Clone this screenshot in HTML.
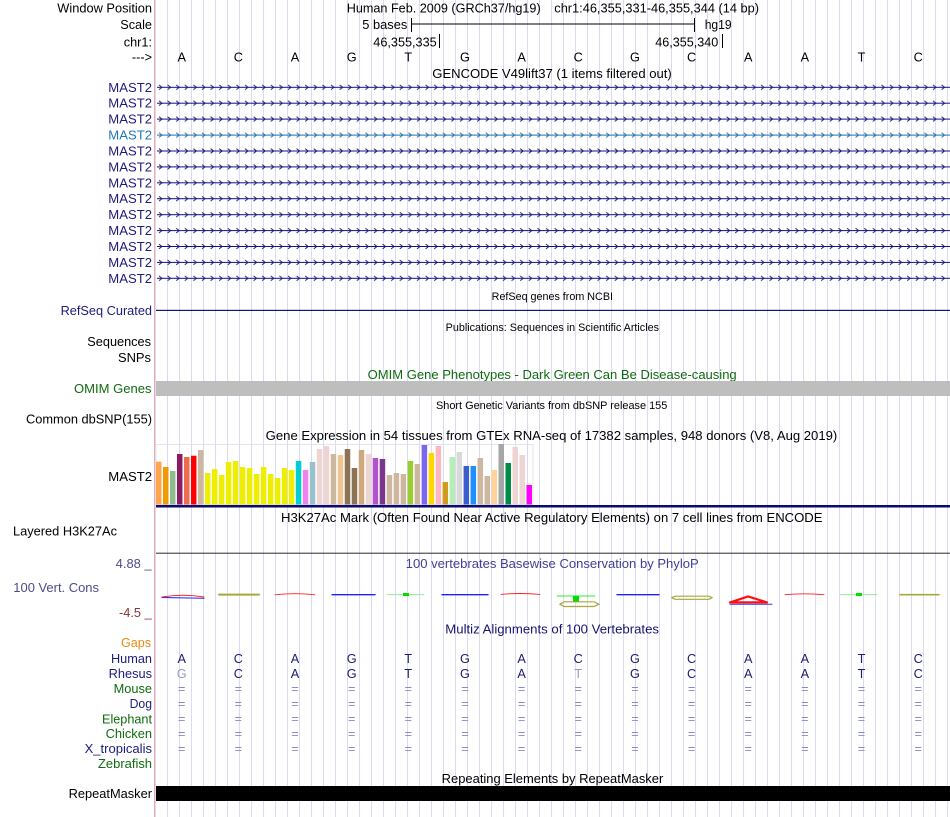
<!DOCTYPE html>
<html><head><meta charset="utf-8">
<style>
html,body{margin:0;padding:0;background:#fff;}
svg{display:block;}
text{font-family:"Liberation Sans",Arial,sans-serif;}
</style></head>
<body>
<svg width="950" height="817" viewBox="0 0 950 817" xmlns="http://www.w3.org/2000/svg">
<defs>
<pattern id="grid" x="167" y="0" width="12" height="20" patternUnits="userSpaceOnUse">
<rect x="0" y="0" width="1" height="20" fill="#dadaf6"/>
</pattern>
<pattern id="chev" x="157" y="-3" width="8.6" height="6" patternUnits="userSpaceOnUse">
<path d="M2,0.6 L5,3 L2,5.4" fill="none" stroke="#14147a" stroke-width="0.9"/>
</pattern>
<pattern id="chev2" x="157" y="-3" width="8.6" height="6" patternUnits="userSpaceOnUse">
<path d="M2,0.6 L5,3 L2,5.4" fill="none" stroke="#1e6fa8" stroke-width="0.9"/>
</pattern>
</defs>
<rect width="950" height="817" fill="#fff"/>
<rect x="155" y="0" width="795" height="817" fill="url(#grid)"/>
<rect x="154" y="0" width="1" height="817" fill="#f5a8a8"/>

<!-- top ruler -->
<g font-size="12.7" fill="#000">
<text x="152" y="12.5" text-anchor="end" textLength="94.7" lengthAdjust="spacingAndGlyphs">Window Position</text>
<text x="346.7" y="12.5" textLength="194" lengthAdjust="spacingAndGlyphs">Human Feb. 2009 (GRCh37/hg19)</text>
<text x="554.3" y="12.5" textLength="204.7" lengthAdjust="spacingAndGlyphs">chr1:46,355,331-46,355,344 (14 bp)</text>
<text x="152" y="29" text-anchor="end">Scale</text>
<text x="362.3" y="29" textLength="45" lengthAdjust="spacingAndGlyphs">5 bases</text>
<text x="704.7" y="29" textLength="27" lengthAdjust="spacingAndGlyphs">hg19</text>
<text x="152" y="46.5" text-anchor="end">chr1:</text>
<text x="373.3" y="46.5" textLength="63.4" lengthAdjust="spacingAndGlyphs">46,355,335</text>
<text x="655.3" y="46.5" textLength="63" lengthAdjust="spacingAndGlyphs">46,355,340</text>
<text x="152" y="61.5" text-anchor="end">---&gt;</text>
<g text-anchor="middle">
<text x="181.7" y="61.5">A</text><text x="238.35" y="61.5">C</text><text x="295" y="61.5">A</text><text x="351.65" y="61.5">G</text><text x="408.3" y="61.5">T</text><text x="464.95" y="61.5">G</text><text x="521.6" y="61.5">A</text><text x="578.25" y="61.5">C</text><text x="634.9" y="61.5">G</text><text x="691.55" y="61.5">C</text><text x="748.2" y="61.5">A</text><text x="804.85" y="61.5">A</text><text x="861.5" y="61.5">T</text><text x="918.15" y="61.5">C</text>
</g>
<text x="432.3" y="77.8" textLength="239.4" lengthAdjust="spacingAndGlyphs">GENCODE V49lift37 (1 items filtered out)</text>
</g>
<rect x="411" y="23.5" width="284" height="1" fill="#000"/>
<rect x="411" y="18" width="1" height="14" fill="#000"/>
<rect x="694" y="18" width="1" height="14" fill="#000"/>
<rect x="439" y="34" width="1" height="14" fill="#000"/>
<rect x="722" y="34" width="1" height="14" fill="#000"/>

<!-- MAST2 gene rows -->
<g font-size="12.7" fill="#1c1c7c" text-anchor="end">
<text x="152" y="91.8" textLength="43.7" lengthAdjust="spacingAndGlyphs">MAST2</text>
<text x="152" y="107.7" textLength="43.7" lengthAdjust="spacingAndGlyphs">MAST2</text>
<text x="152" y="123.6" textLength="43.7" lengthAdjust="spacingAndGlyphs">MAST2</text>
<text x="152" y="139.6" textLength="43.7" lengthAdjust="spacingAndGlyphs" fill="#1e78b8">MAST2</text>
<text x="152" y="155.5" textLength="43.7" lengthAdjust="spacingAndGlyphs">MAST2</text>
<text x="152" y="171.4" textLength="43.7" lengthAdjust="spacingAndGlyphs">MAST2</text>
<text x="152" y="187.3" textLength="43.7" lengthAdjust="spacingAndGlyphs">MAST2</text>
<text x="152" y="203.2" textLength="43.7" lengthAdjust="spacingAndGlyphs">MAST2</text>
<text x="152" y="219.2" textLength="43.7" lengthAdjust="spacingAndGlyphs">MAST2</text>
<text x="152" y="235.1" textLength="43.7" lengthAdjust="spacingAndGlyphs">MAST2</text>
<text x="152" y="251" textLength="43.7" lengthAdjust="spacingAndGlyphs">MAST2</text>
<text x="152" y="266.9" textLength="43.7" lengthAdjust="spacingAndGlyphs">MAST2</text>
<text x="152" y="282.8" textLength="43.7" lengthAdjust="spacingAndGlyphs">MAST2</text>
</g>
<g transform="translate(0,87.3)"><rect x="157" y="-0.5" width="793" height="1" fill="#14147a"/><rect x="157" y="-3" width="793" height="6" fill="url(#chev)"/></g>
<g transform="translate(0,103.2)"><rect x="157" y="-0.5" width="793" height="1" fill="#14147a"/><rect x="157" y="-3" width="793" height="6" fill="url(#chev)"/></g>
<g transform="translate(0,119.1)"><rect x="157" y="-0.5" width="793" height="1" fill="#14147a"/><rect x="157" y="-3" width="793" height="6" fill="url(#chev)"/></g>
<g transform="translate(0,135.1)"><rect x="157" y="-0.5" width="793" height="1" fill="#1e6fa8"/><rect x="157" y="-3" width="793" height="6" fill="url(#chev2)"/></g>
<g transform="translate(0,151.0)"><rect x="157" y="-0.5" width="793" height="1" fill="#14147a"/><rect x="157" y="-3" width="793" height="6" fill="url(#chev)"/></g>
<g transform="translate(0,166.9)"><rect x="157" y="-0.5" width="793" height="1" fill="#14147a"/><rect x="157" y="-3" width="793" height="6" fill="url(#chev)"/></g>
<g transform="translate(0,182.8)"><rect x="157" y="-0.5" width="793" height="1" fill="#14147a"/><rect x="157" y="-3" width="793" height="6" fill="url(#chev)"/></g>
<g transform="translate(0,198.7)"><rect x="157" y="-0.5" width="793" height="1" fill="#14147a"/><rect x="157" y="-3" width="793" height="6" fill="url(#chev)"/></g>
<g transform="translate(0,214.7)"><rect x="157" y="-0.5" width="793" height="1" fill="#14147a"/><rect x="157" y="-3" width="793" height="6" fill="url(#chev)"/></g>
<g transform="translate(0,230.6)"><rect x="157" y="-0.5" width="793" height="1" fill="#14147a"/><rect x="157" y="-3" width="793" height="6" fill="url(#chev)"/></g>
<g transform="translate(0,246.5)"><rect x="157" y="-0.5" width="793" height="1" fill="#14147a"/><rect x="157" y="-3" width="793" height="6" fill="url(#chev)"/></g>
<g transform="translate(0,262.4)"><rect x="157" y="-0.5" width="793" height="1" fill="#14147a"/><rect x="157" y="-3" width="793" height="6" fill="url(#chev)"/></g>
<g transform="translate(0,278.3)"><rect x="157" y="-0.5" width="793" height="1" fill="#14147a"/><rect x="157" y="-3" width="793" height="6" fill="url(#chev)"/></g>

<!-- RefSeq / pubs / OMIM / dbSNP -->
<text x="491.7" y="299.8" font-size="10.7" textLength="121.3" lengthAdjust="spacingAndGlyphs">RefSeq genes from NCBI</text>
<text x="152" y="314.8" font-size="12.7" fill="#1c1c7c" text-anchor="end" textLength="91.4" lengthAdjust="spacingAndGlyphs">RefSeq Curated</text>
<rect x="156" y="309.8" width="794" height="1.2" fill="#14147a"/>
<text x="445.7" y="330.8" font-size="10.7" textLength="213.3" lengthAdjust="spacingAndGlyphs">Publications: Sequences in Scientific Articles</text>
<text x="151" y="346.2" font-size="12.7" text-anchor="end" textLength="63.7" lengthAdjust="spacingAndGlyphs">Sequences</text>
<text x="151" y="361.8" font-size="12.7" text-anchor="end" textLength="33" lengthAdjust="spacingAndGlyphs">SNPs</text>
<text x="367.7" y="378.8" font-size="12.7" fill="#0f6b0f" textLength="369" lengthAdjust="spacingAndGlyphs">OMIM Gene Phenotypes - Dark Green Can Be Disease-causing</text>
<text x="151.5" y="392.8" font-size="12.7" fill="#0f6b0f" text-anchor="end" textLength="77.5" lengthAdjust="spacingAndGlyphs">OMIM Genes</text>
<rect x="156" y="381" width="794" height="15" fill="#bebebe"/>
<text x="436" y="408.8" font-size="10.7" textLength="231.3" lengthAdjust="spacingAndGlyphs">Short Genetic Variants from dbSNP release 155</text>
<text x="152" y="423.5" font-size="12.7" text-anchor="end" textLength="126" lengthAdjust="spacingAndGlyphs">Common dbSNP(155)</text>

<!-- GTEx -->
<text x="265.7" y="440.2" font-size="12.7" textLength="571.6" lengthAdjust="spacingAndGlyphs">Gene Expression in 54 tissues from GTEx RNA-seq of 17382 samples, 948 donors (V8, Aug 2019)</text>
<text x="152" y="481.2" font-size="12.7" text-anchor="end" textLength="43.7" lengthAdjust="spacingAndGlyphs">MAST2</text>
<rect x="156" y="444.5" width="377" height="60" fill="none" stroke="#e4e4ec" stroke-width="1"/>
<g>
<rect x="156.0" y="461.7" width="5.5" height="42.8" fill="#FFA54F"/>
<rect x="162.99" y="467" width="5.5" height="37.5" fill="#EE9A00"/>
<rect x="169.98" y="471" width="5.5" height="33.5" fill="#8FBC8F"/>
<rect x="176.97" y="454" width="5.5" height="50.5" fill="#8B1C62"/>
<rect x="183.96" y="457" width="5.5" height="47.5" fill="#EE6A50"/>
<rect x="190.95" y="455.7" width="5.5" height="48.8" fill="#FF0000"/>
<rect x="197.94" y="450" width="5.5" height="54.5" fill="#CDB79E"/>
<rect x="204.93" y="473" width="5.5" height="31.5" fill="#EEEE00"/>
<rect x="211.92" y="469" width="5.5" height="35.5" fill="#EEEE00"/>
<rect x="218.91" y="475" width="5.5" height="29.5" fill="#EEEE00"/>
<rect x="225.9" y="462" width="5.5" height="42.5" fill="#EEEE00"/>
<rect x="232.89" y="461" width="5.5" height="43.5" fill="#EEEE00"/>
<rect x="239.88" y="467" width="5.5" height="37.5" fill="#EEEE00"/>
<rect x="246.87" y="468" width="5.5" height="36.5" fill="#EEEE00"/>
<rect x="253.86" y="474" width="5.5" height="30.5" fill="#EEEE00"/>
<rect x="260.85" y="467" width="5.5" height="37.5" fill="#EEEE00"/>
<rect x="267.84" y="474" width="5.5" height="30.5" fill="#EEEE00"/>
<rect x="274.83" y="478" width="5.5" height="26.5" fill="#EEEE00"/>
<rect x="281.82" y="468" width="5.5" height="36.5" fill="#EEEE00"/>
<rect x="288.81" y="470" width="5.5" height="34.5" fill="#EEEE00"/>
<rect x="295.8" y="461" width="5.5" height="43.5" fill="#00CED1"/>
<rect x="302.79" y="470" width="5.5" height="34.5" fill="#EE82EE"/>
<rect x="309.78" y="462" width="5.5" height="42.5" fill="#9AC0CD"/>
<rect x="316.77" y="449" width="5.5" height="55.5" fill="#EED5D2"/>
<rect x="323.76" y="446" width="5.5" height="58.5" fill="#EED5D2"/>
<rect x="330.75" y="454" width="5.5" height="50.5" fill="#CDB79E"/>
<rect x="337.74" y="455" width="5.5" height="49.5" fill="#EEC591"/>
<rect x="344.73" y="449" width="5.5" height="55.5" fill="#8B7355"/>
<rect x="351.72" y="468" width="5.5" height="36.5" fill="#8B7355"/>
<rect x="358.71" y="450" width="5.5" height="54.5" fill="#CDAA7D"/>
<rect x="365.7" y="454" width="5.5" height="50.5" fill="#EED5D2"/>
<rect x="372.69" y="458" width="5.5" height="46.5" fill="#B452CD"/>
<rect x="379.68" y="459" width="5.5" height="45.5" fill="#7A378B"/>
<rect x="386.67" y="475" width="5.5" height="29.5" fill="#CDB79E"/>
<rect x="393.66" y="473" width="5.5" height="31.5" fill="#CDB79E"/>
<rect x="400.65" y="474" width="5.5" height="30.5" fill="#CDB79E"/>
<rect x="407.64" y="461" width="5.5" height="43.5" fill="#9ACD32"/>
<rect x="414.63" y="464" width="5.5" height="40.5" fill="#CDB79E"/>
<rect x="421.62" y="445" width="5.5" height="59.5" fill="#7A67EE"/>
<rect x="428.61" y="453" width="5.5" height="51.5" fill="#FFD700"/>
<rect x="435.6" y="446" width="5.5" height="58.5" fill="#FFB6C1"/>
<rect x="442.59" y="482" width="5.5" height="22.5" fill="#CD9B1D"/>
<rect x="449.58" y="457" width="5.5" height="47.5" fill="#B4EEB4"/>
<rect x="456.57" y="452" width="5.5" height="52.5" fill="#D9D9D9"/>
<rect x="463.56" y="466" width="5.5" height="38.5" fill="#3A5FCD"/>
<rect x="470.55" y="466" width="5.5" height="38.5" fill="#1E90FF"/>
<rect x="477.54" y="458" width="5.5" height="46.5" fill="#CDB79E"/>
<rect x="484.53" y="476" width="5.5" height="28.5" fill="#CDB79E"/>
<rect x="491.52" y="470" width="5.5" height="34.5" fill="#FFD39B"/>
<rect x="498.51" y="444" width="5.5" height="60.5" fill="#A6A6A6"/>
<rect x="505.5" y="463" width="5.5" height="41.5" fill="#008B45"/>
<rect x="512.49" y="447" width="5.5" height="57.5" fill="#EED5D2"/>
<rect x="519.48" y="455" width="5.5" height="49.5" fill="#EED5D2"/>
<rect x="526.47" y="485" width="5.5" height="19.5" fill="#FF00FF"/>
</g>
<rect x="156" y="505" width="794" height="2.5" fill="#0a0a70"/>

<!-- H3K27Ac -->
<text x="281" y="522.2" font-size="12.7" textLength="541.5" lengthAdjust="spacingAndGlyphs">H3K27Ac Mark (Often Found Near Active Regulatory Elements) on 7 cell lines from ENCODE</text>
<text x="13" y="535.5" font-size="12.7" textLength="104" lengthAdjust="spacingAndGlyphs">Layered H3K27Ac</text>
<rect x="156" y="552.7" width="794" height="1" fill="#2a2a2a"/>

<!-- Conservation -->
<text x="151.7" y="567.8" font-size="12.7" fill="#4c4c8c" text-anchor="end" textLength="36" lengthAdjust="spacingAndGlyphs">4.88 _</text>
<text x="405.7" y="567.8" font-size="12.7" fill="#3f3f96" textLength="293" lengthAdjust="spacingAndGlyphs">100 vertebrates Basewise Conservation by PhyloP</text>
<text x="13.3" y="591.8" font-size="12.7" fill="#4c4c8c" textLength="85.7" lengthAdjust="spacingAndGlyphs">100 Vert. Cons</text>
<text x="151.7" y="616.8" font-size="12.7" fill="#8b3535" text-anchor="end" textLength="32.7" lengthAdjust="spacingAndGlyphs">-4.5 _</text>
<g fill="none" stroke-linecap="round">
<path d="M162,597.5 L204,598.2" stroke="#2020ff" stroke-width="1"/>
<path d="M162,597 Q183,593.5 204,597" stroke="#ff2020" stroke-width="0.9"/>
<path d="M219,594.6 L259,594.6" stroke="#a8a83a" stroke-width="2"/>
<path d="M275,594.8 Q295,592.6 315,594.8" stroke="#ff2020" stroke-width="0.9"/>
<path d="M332,594.7 L375,594.7" stroke="#2020ff" stroke-width="1.3"/>
<path d="M387,594.6 L424,594.6" stroke="#90ee90" stroke-width="1"/>
<path d="M442,594.7 L488,594.7" stroke="#2020ff" stroke-width="1.3"/>
<path d="M501,594.4 Q520,592.6 540,594.4" stroke="#ff2020" stroke-width="0.9"/>
<path d="M557,596 L595,596" stroke="#30ee30" stroke-width="1"/>
<path d="M560,604.2 L564,601.8 L594,601.8 L599,604.2 L594,606.5 L564,606.5 Z" stroke="#a8a83a" stroke-width="1.2"/>
<path d="M617,594.7 L659,594.7" stroke="#2020ff" stroke-width="1.3"/>
<path d="M672,597.7 L675,596.2 L709,596.2 L712,597.7 L709,599.3 L675,599.3 Z" stroke="#a8a83a" stroke-width="1.2"/>
<path d="M730,604.2 L772,604.2" stroke="#3030ff" stroke-width="1"/>
<path d="M730,602.4 L748,596.4 L767,602.4 Z" stroke="#ff1010" stroke-width="2.2" stroke-linejoin="round"/>
<path d="M785,594.7 Q804,593 824,594.7" stroke="#ff2020" stroke-width="0.9"/>
<path d="M840,594.6 L877,594.6" stroke="#90ee90" stroke-width="1"/>
<path d="M900,594.7 L939,594.7" stroke="#a8a83a" stroke-width="1.6"/>
</g>
<rect x="403" y="593" width="6" height="3" fill="#00dd00"/>
<rect x="573" y="596" width="6" height="5.5" fill="#00dd00"/>
<rect x="856" y="593" width="6" height="3" fill="#00dd00"/>

<!-- Multiz -->
<text x="445.3" y="633.5" font-size="12.7" fill="#14146e" textLength="213.7" lengthAdjust="spacingAndGlyphs">Multiz Alignments of 100 Vertebrates</text>
<g font-size="12.7" text-anchor="end">
<text x="151" y="647.2" fill="#ee8a10" textLength="30" lengthAdjust="spacingAndGlyphs">Gaps</text>
<text x="152" y="662.8" fill="#1c1c7c" textLength="41" lengthAdjust="spacingAndGlyphs">Human</text>
<text x="152" y="677.8" fill="#1c1c7c" textLength="43.4" lengthAdjust="spacingAndGlyphs">Rhesus</text>
<text x="152" y="692.8" fill="#0f6b0f" textLength="38.4" lengthAdjust="spacingAndGlyphs">Mouse</text>
<text x="152" y="707.8" fill="#1c1c7c" textLength="22.4" lengthAdjust="spacingAndGlyphs">Dog</text>
<text x="152" y="723.3" fill="#0f6b0f" textLength="50" lengthAdjust="spacingAndGlyphs">Elephant</text>
<text x="152" y="737.8" fill="#0f6b0f" textLength="46.4" lengthAdjust="spacingAndGlyphs">Chicken</text>
<text x="152" y="752.8" fill="#1c1c7c" textLength="67.4" lengthAdjust="spacingAndGlyphs">X_tropicalis</text>
<text x="152" y="767.8" fill="#0f6b0f" textLength="54" lengthAdjust="spacingAndGlyphs">Zebrafish</text>
</g>
<g font-size="12.7" text-anchor="middle" fill="#1c1c70">
<text x="181.7" y="662.8">A</text><text x="238.35" y="662.8">C</text><text x="295" y="662.8">A</text><text x="351.65" y="662.8">G</text><text x="408.3" y="662.8">T</text><text x="464.95" y="662.8">G</text><text x="521.6" y="662.8">A</text><text x="578.25" y="662.8">C</text><text x="634.9" y="662.8">G</text><text x="691.55" y="662.8">C</text><text x="748.2" y="662.8">A</text><text x="804.85" y="662.8">A</text><text x="861.5" y="662.8">T</text><text x="918.15" y="662.8">C</text>
<text x="181.7" y="677.8" fill="#9a9ac0">G</text><text x="238.35" y="677.8">C</text><text x="295" y="677.8">A</text><text x="351.65" y="677.8">G</text><text x="408.3" y="677.8">T</text><text x="464.95" y="677.8">G</text><text x="521.6" y="677.8">A</text><text x="578.25" y="677.8" fill="#9a9ac0">T</text><text x="634.9" y="677.8">G</text><text x="691.55" y="677.8">C</text><text x="748.2" y="677.8">A</text><text x="804.85" y="677.8">A</text><text x="861.5" y="677.8">T</text><text x="918.15" y="677.8">C</text>
</g>
<g font-size="12.7" text-anchor="middle" fill="#8a8ac4">
<text x="181.7" y="692.8">=</text><text x="238.35" y="692.8">=</text><text x="295" y="692.8">=</text><text x="351.65" y="692.8">=</text><text x="408.3" y="692.8">=</text><text x="464.95" y="692.8">=</text><text x="521.6" y="692.8">=</text><text x="578.25" y="692.8">=</text><text x="634.9" y="692.8">=</text><text x="691.55" y="692.8">=</text><text x="748.2" y="692.8">=</text><text x="804.85" y="692.8">=</text><text x="861.5" y="692.8">=</text><text x="918.15" y="692.8">=</text>
<text x="181.7" y="707.8">=</text><text x="238.35" y="707.8">=</text><text x="295" y="707.8">=</text><text x="351.65" y="707.8">=</text><text x="408.3" y="707.8">=</text><text x="464.95" y="707.8">=</text><text x="521.6" y="707.8">=</text><text x="578.25" y="707.8">=</text><text x="634.9" y="707.8">=</text><text x="691.55" y="707.8">=</text><text x="748.2" y="707.8">=</text><text x="804.85" y="707.8">=</text><text x="861.5" y="707.8">=</text><text x="918.15" y="707.8">=</text>
<text x="181.7" y="722.8">=</text><text x="238.35" y="722.8">=</text><text x="295" y="722.8">=</text><text x="351.65" y="722.8">=</text><text x="408.3" y="722.8">=</text><text x="464.95" y="722.8">=</text><text x="521.6" y="722.8">=</text><text x="578.25" y="722.8">=</text><text x="634.9" y="722.8">=</text><text x="691.55" y="722.8">=</text><text x="748.2" y="722.8">=</text><text x="804.85" y="722.8">=</text><text x="861.5" y="722.8">=</text><text x="918.15" y="722.8">=</text>
<text x="181.7" y="737.8">=</text><text x="238.35" y="737.8">=</text><text x="295" y="737.8">=</text><text x="351.65" y="737.8">=</text><text x="408.3" y="737.8">=</text><text x="464.95" y="737.8">=</text><text x="521.6" y="737.8">=</text><text x="578.25" y="737.8">=</text><text x="634.9" y="737.8">=</text><text x="691.55" y="737.8">=</text><text x="748.2" y="737.8">=</text><text x="804.85" y="737.8">=</text><text x="861.5" y="737.8">=</text><text x="918.15" y="737.8">=</text>
<text x="181.7" y="752.8">=</text><text x="238.35" y="752.8">=</text><text x="295" y="752.8">=</text><text x="351.65" y="752.8">=</text><text x="408.3" y="752.8">=</text><text x="464.95" y="752.8">=</text><text x="521.6" y="752.8">=</text><text x="578.25" y="752.8">=</text><text x="634.9" y="752.8">=</text><text x="691.55" y="752.8">=</text><text x="748.2" y="752.8">=</text><text x="804.85" y="752.8">=</text><text x="861.5" y="752.8">=</text><text x="918.15" y="752.8">=</text>
</g>

<!-- RepeatMasker -->
<text x="441.7" y="782.8" font-size="12.7" textLength="221.6" lengthAdjust="spacingAndGlyphs">Repeating Elements by RepeatMasker</text>
<text x="152" y="797.8" font-size="12.7" text-anchor="end" textLength="83.4" lengthAdjust="spacingAndGlyphs">RepeatMasker</text>
<rect x="156" y="786" width="794" height="15" fill="#000"/>
</svg>
</body></html>
